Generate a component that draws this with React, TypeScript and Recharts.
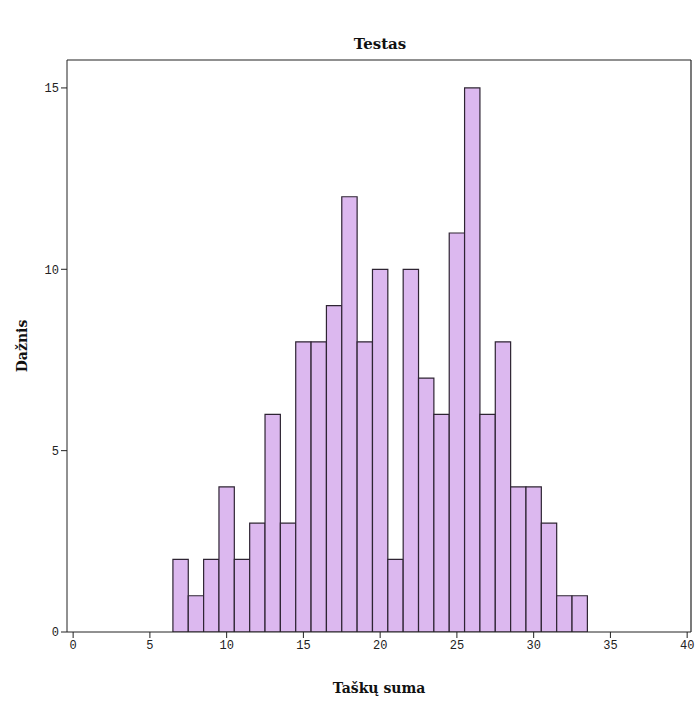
import { ComposedChart, Bar, XAxis, YAxis, ReferenceLine } from "recharts";

// histogram of "Taškų suma" (score sum), one bin per integer
const scores = [7, 8, 9, 10, 11, 12, 13, 14, 15, 16, 17, 18, 19, 20, 21, 22, 23, 24, 25, 26, 27, 28, 29, 30, 31, 32, 33];
const counts = [2, 1, 2, 4, 2, 3, 6, 3, 8, 8, 9, 12, 8, 10, 2, 10, 7, 6, 11, 15, 6, 8, 4, 4, 3, 1, 1];
const xTicks = [0, 5, 10, 15, 20, 25, 30, 35, 40];
const yTicks = [0, 5, 10, 15];

const data = scores.map((s, i) => ({ score: s, count: counts[i] }));

const X_MAX = 40.25;
const Y_MAX = 15.77;

const tickFont = { fontFamily: "Liberation Mono", fontSize: 12, fill: "#222" };
const labelFont = { fontFamily: "DejaVu Serif", fontSize: 14, fontWeight: 700, fill: "#111" };

export default function App() {
  return (
    <div style={{ position: "absolute", left: 0, top: 0, width: 700, height: 701, background: "#fff" }}>
      <div
        style={{
          position: "absolute",
          left: 0,
          width: 760,
          top: 35,
          textAlign: "center",
          fontFamily: "DejaVu Serif",
          fontWeight: 700,
          fontSize: 15,
          color: "#111",
        }}
      >
        Testas
      </div>
      <ComposedChart
        width={700}
        height={701}
        data={data}
        margin={{ top: 60, right: 9, bottom: 0, left: 0 }}
      >
        <XAxis
          dataKey="score"
          type="number"
          domain={[-0.4, X_MAX]}
          ticks={xTicks}
          allowDataOverflow
          height={69}
          stroke="#222"
          tickSize={6}
          tick={tickFont}
          label={{ value: "Taškų suma", position: "insideBottom", offset: 8, style: labelFont }}
        />
        <YAxis
          type="number"
          domain={[0, Y_MAX]}
          ticks={yTicks}
          allowDataOverflow
          width={67}
          stroke="#222"
          tickSize={6}
          tick={tickFont}
          label={{
            value: "Dažnis",
            angle: -90,
            position: "insideLeft",
            offset: 22,
            textAnchor: "middle",
            style: labelFont,
          }}
        />
        <ReferenceLine y={Y_MAX} stroke="#222" strokeWidth={1.2} />
        <ReferenceLine x={X_MAX} stroke="#222" strokeWidth={1.2} />
        <Bar
          dataKey="count"
          barSize={15.35}
          fill="#dcb8ef"
          stroke="#2e2433"
          strokeWidth={1.2}
          isAnimationActive={false}
        />
      </ComposedChart>
    </div>
  );
}
